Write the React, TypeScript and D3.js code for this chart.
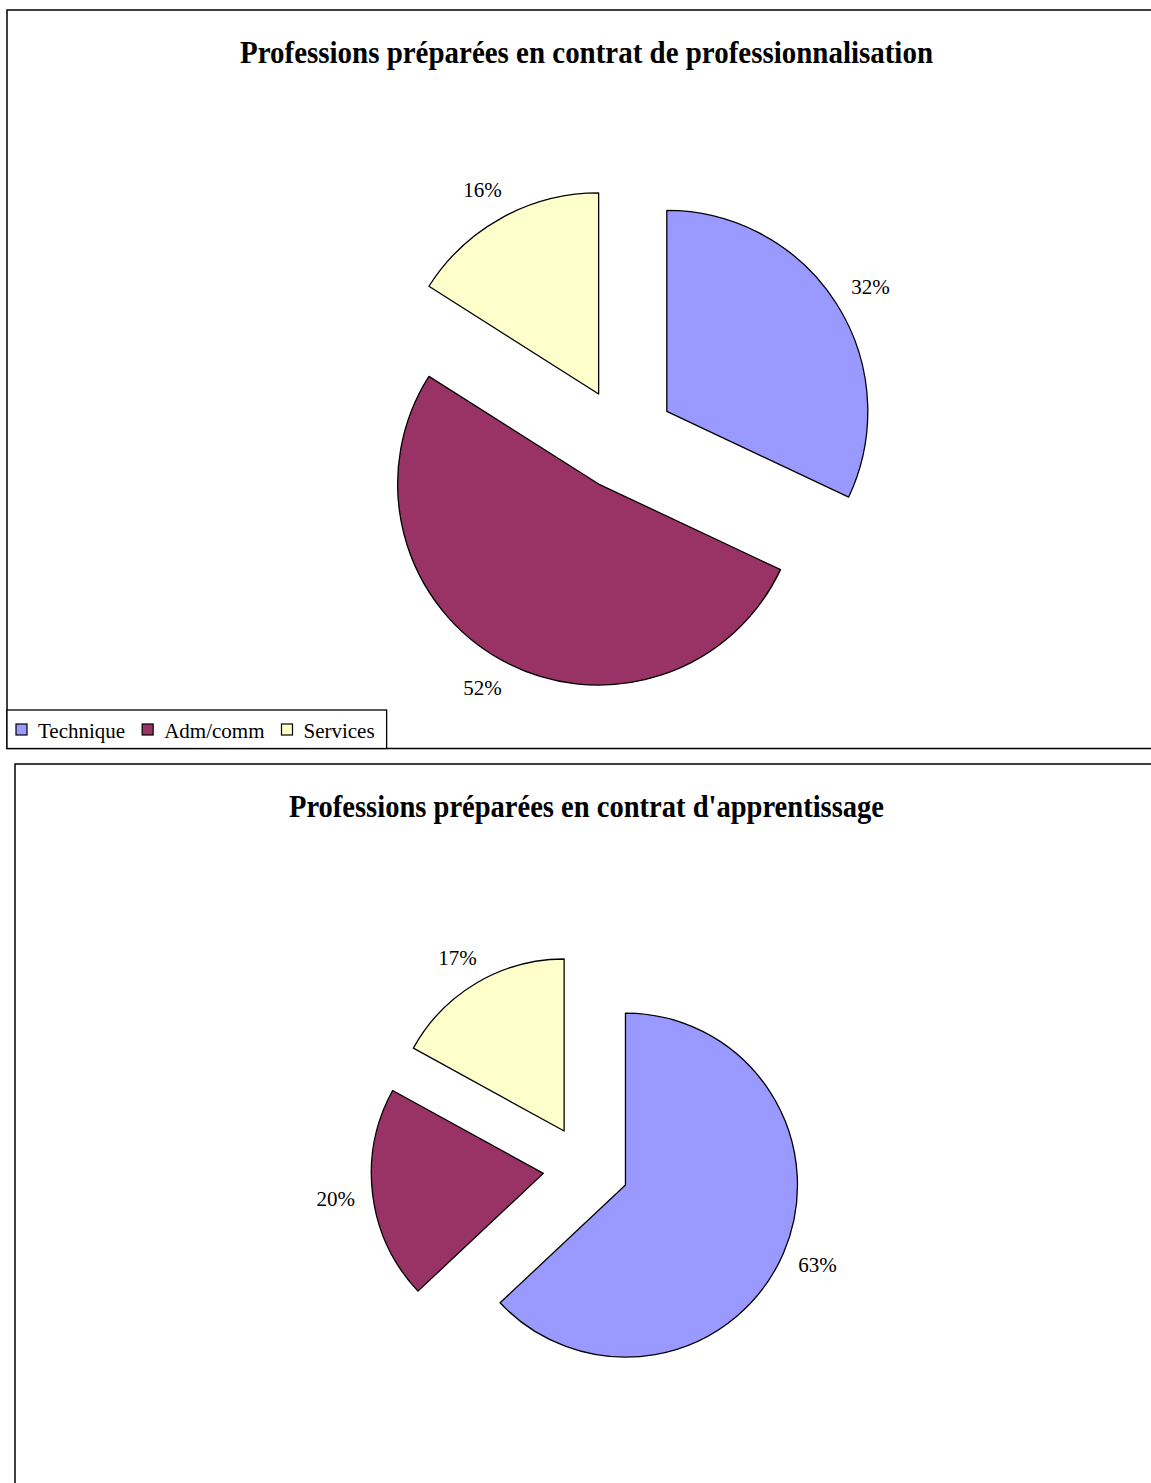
import React from "react";
import * as d3 from "d3";

const categories = ["Technique", "Adm/comm", "Services"];
const sliceColors = ["#9999ff", "#993366", "#ffffcc"];
const proValues = [32, 52, 16];
const appValues = [63, 20, 17];
const titlePro = "Professions préparées en contrat de professionnalisation";
const titleApp = "Professions préparées en contrat d'apprentissage";

const W = 1151;
const H = 1483;
const SERIF = "'Liberation Serif', 'Times New Roman', serif";
const LABEL_FONT = 21;

function measure(text: string, font: string): number {
  const c = document.createElement("canvas");
  const ctx = c.getContext("2d");
  if (!ctx) return text.length * 10;
  ctx.font = font;
  return ctx.measureText(text).width;
}

type PieProps = {
  values: number[];
  cx: number;
  cy: number;
  r: number;
  explode: number;
  labelR: number;
};

function Pie({ values, cx, cy, r, explode, labelR }: PieProps) {
  const pie = d3.pie<number>().sort(null).value((d) => d);
  const arcs = pie(values);
  const arc = d3.arc<d3.PieArcDatum<number>>().innerRadius(0).outerRadius(r);
  const total = d3.sum(values);
  const fmt = (v: number) => `${Math.round((v / total) * 100)}%`;
  return (
    <g transform={`translate(${cx},${cy})`}>
      {arcs.map((a, i) => {
        const mid = (a.startAngle + a.endAngle) / 2;
        const s = Math.sin(mid);
        const c = -Math.cos(mid);
        const ox = explode * s;
        const oy = explode * c;
        const txt = fmt(a.value);
        const tw = measure(txt, `${LABEL_FONT}px ${SERIF}`);
        const lx = ox + labelR * s + s * (tw / 2);
        const ly = oy + labelR * c + c * 11;
        return (
          <g key={i}>
            <path
              d={arc(a) || ""}
              transform={`translate(${ox},${oy})`}
              fill={sliceColors[i]}
              stroke="#000"
              strokeWidth={1.3}
              strokeLinejoin="round"
            />
            <text
              x={lx}
              y={ly + 7}
              textAnchor="middle"
              fontFamily={SERIF}
              fontSize={LABEL_FONT}
              fill="#000"
            >
              {txt}
            </text>
          </g>
        );
      })}
    </g>
  );
}

function Legend({ x, y, bottom }: { x: number; y: number; bottom: number }) {
  const font = `${LABEL_FONT}px ${SERIF}`;
  let cur = x + 9;
  const items = categories.map((cat, i) => {
    const sq = cur;
    const tx = sq + 11 + 11;
    const tw = measure(cat, font);
    cur = tx + tw + 17;
    return { cat, i, sq, tx, tw };
  });
  const last = items[items.length - 1];
  const right = last.tx + last.tw + 12;
  return (
    <g>
      <rect x={x} y={y} width={right - x} height={bottom - y} fill="#fff" stroke="#000" strokeWidth={1.3} />
      {items.map((it) => (
        <g key={it.cat}>
          <rect x={it.sq} y={y + 14} width={11} height={11} fill={sliceColors[it.i]} stroke="#000" strokeWidth={1.2} />
          <text x={it.tx} y={y + 28} fontFamily={SERIF} fontSize={LABEL_FONT} fill="#000">
            {it.cat}
          </text>
        </g>
      ))}
    </g>
  );
}

export default function App() {
  return (
    <svg
      width={W}
      height={H}
      viewBox={`0 0 ${W} ${H}`}
      style={{ position: "absolute", left: 0, top: 0, background: "#fff" }}
    >
      <rect x={0} y={0} width={W} height={H} fill="#fff" />
      {/* Panel 1 */}
      <rect x={7} y={10} width={1300} height={738.5} fill="#fff" stroke="#000" strokeWidth={1.5} />
      <text
        x={586.5}
        y={63}
        textAnchor="middle"
        fontFamily={SERIF}
        fontWeight="bold"
        fontSize={31}
        textLength={693}
        lengthAdjust="spacingAndGlyphs"
        fill="#000"
      >
        {titlePro}
      </text>
      <Pie values={proValues} cx={623.4} cy={439} r={201} explode={51.4} labelR={222} />
      <Legend x={7} y={710} bottom={748.5} />

      {/* Panel 2 */}
      <rect x={15} y={764} width={1300} height={900} fill="#fff" stroke="#000" strokeWidth={1.5} />
      <text
        x={586.5}
        y={817}
        textAnchor="middle"
        fontFamily={SERIF}
        fontWeight="bold"
        fontSize={31}
        textLength={595}
        lengthAdjust="spacingAndGlyphs"
        fill="#000"
      >
        {titleApp}
      </text>
      <Pie values={appValues} cx={586} cy={1168} r={172} explode={43} labelR={190} />
    </svg>
  );
}
